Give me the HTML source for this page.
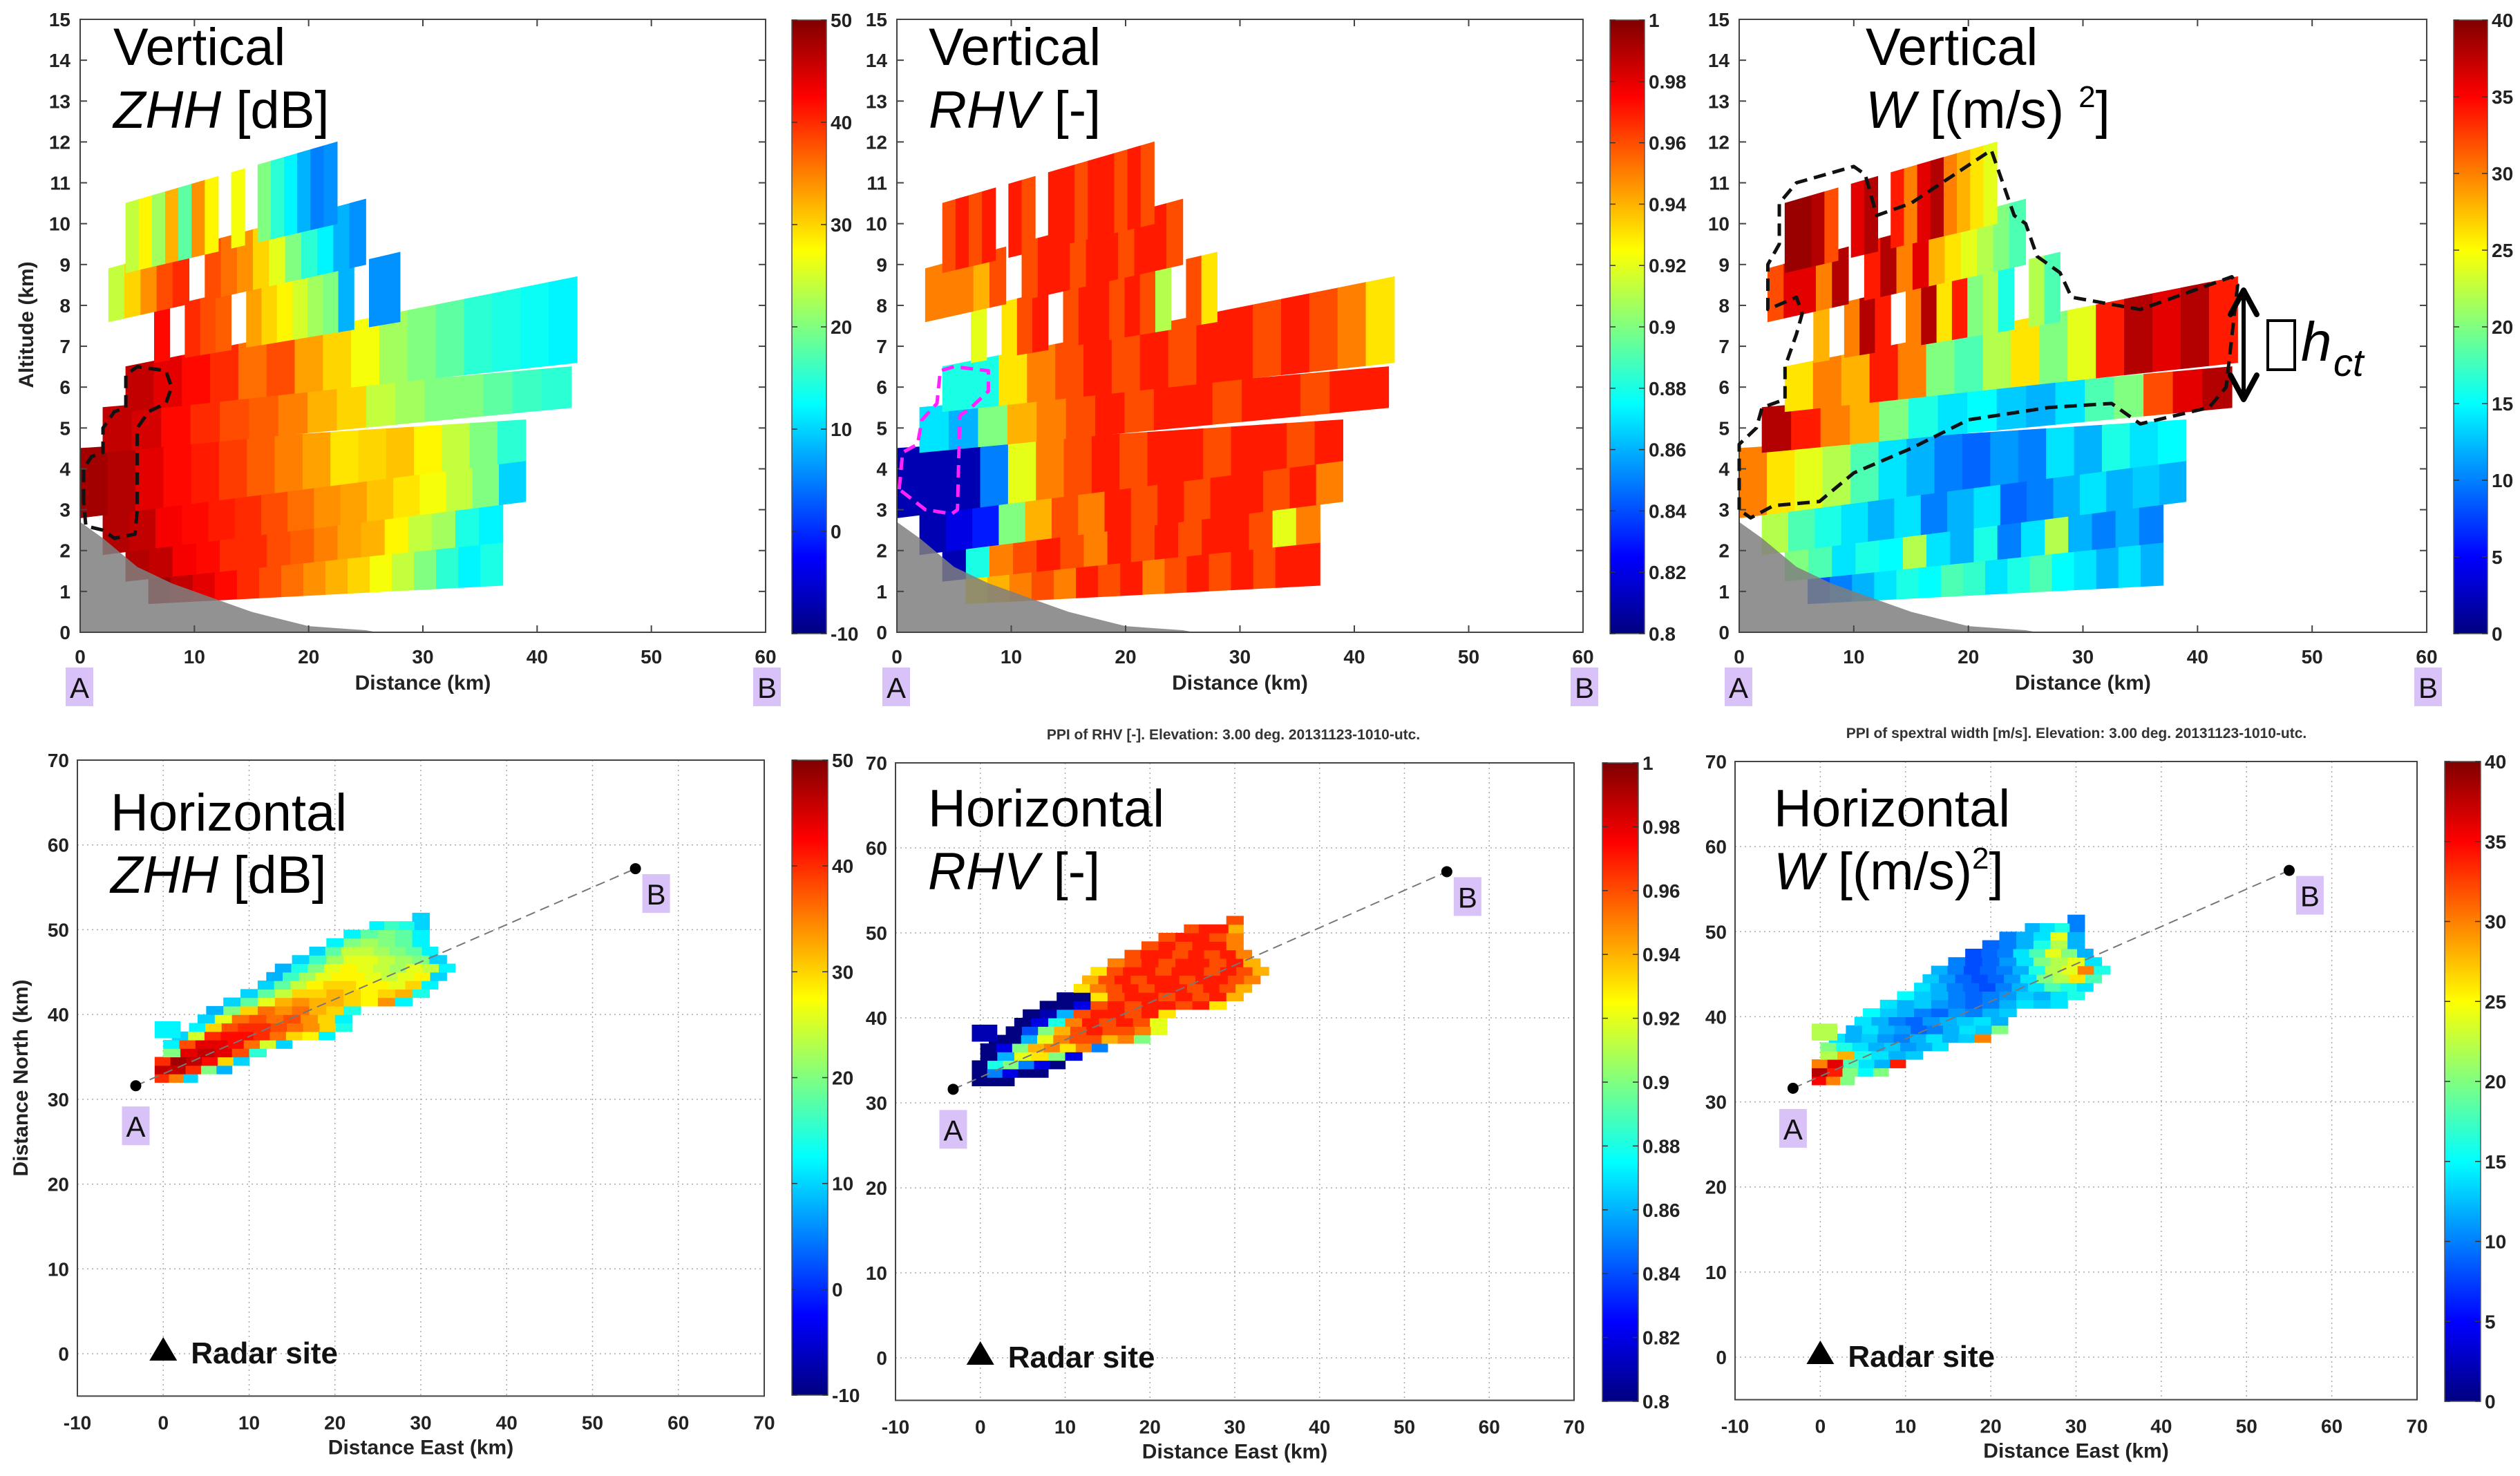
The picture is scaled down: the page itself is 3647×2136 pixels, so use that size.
<!DOCTYPE html>
<html><head><meta charset="utf-8"><title>Radar vertical and horizontal sections</title>
<style>
html,body{margin:0;padding:0;background:#fff;}
svg{display:block;font-family:"Liberation Sans",Arial,sans-serif;}
</style></head>
<body>
<svg id="fig" xmlns="http://www.w3.org/2000/svg" width="3647" height="2136" viewBox="0 0 3647 2136"></svg>
<script>
// ---------- data: vertical cross-section beam bands (km / altitude km) ----------
const bandStart   = [6, 4, 2, 0, 2, 4, 6.5, 2.5, 4];
const bandEnd     = [37, 37, 39, 39, 43, 43.5, 28, 25, 22.5];
const bandBotStart= [0.7, 1.25, 1.9, 2.8, 4.4, 5.4, 6.6, 7.6, 8.8];
const bandBotEnd  = [1.15, 2.2, 3.2, 4.2, 5.5, 6.6, 7.6, 9.0, 10.0];
const bandTopStart= [1.8, 2.4, 2.9, 4.5, 5.5, 6.5, 7.9, 8.9, 10.5];
const bandTopEnd  = [2.4, 3.2, 4.2, 5.2, 6.5, 8.7, 9.3, 10.6, 12.0];

const zhhBands = [
 [48,46,44,42,40,38,36,34,32,30,27,24,20,15,12,14],
 [47,46,43,42,40,40,38,37,35,33,32,28,24,22,14,12],
 [47,46,43,42,41,40,38,36,34,33,31,29,27,24,20,10],
 [48,47,44,42,41,39,37,35,33,29,30,31,28,24,20,15],
 [46,45,42,40,38,37,35,32,30,24,22,20,20,18,16,15],
 [46,44,42,40,36,38,33,30,27,22,20,18,15,14,13,12],
 [42,null,40,38,37,null,33,30,28,25,22,20,8,null,6,6],
 [24,30,34,38,40,null,38,36,34,30,26,20,15,12,8,6],
 [24,28,22,32,18,34,28,null,27,null,20,15,12,8,5,6]
];
const rhvBands = [
 [0.93,0.94,0.95,0.96,0.95,0.97,0.96,0.97,0.95,0.96,0.97,0.96,0.97,0.96,0.97,0.97],
 [0.81,0.88,0.95,0.96,0.97,0.96,0.95,0.97,0.96,0.97,0.96,0.97,0.97,0.96,0.92,0.95],
 [0.81,0.82,0.83,0.90,0.94,0.96,0.95,0.97,0.96,0.97,0.96,0.97,0.97,0.96,0.97,0.95],
 [0.81,0.81,0.81,0.85,0.92,0.95,0.96,0.97,0.96,0.97,0.97,0.96,0.97,0.97,0.96,0.97],
 [0.87,0.86,0.90,0.94,0.95,0.96,0.97,0.96,0.97,0.97,0.96,0.97,0.97,0.96,0.97,0.97],
 [0.88,0.88,0.93,0.95,0.96,0.97,0.96,0.97,0.96,0.97,0.97,0.96,0.97,0.96,0.95,0.93],
 [0.92,null,0.93,0.96,0.97,null,0.96,0.97,0.97,0.96,0.97,0.96,0.91,null,0.96,0.93],
 [0.95,0.95,0.95,0.94,0.96,null,0.96,0.97,0.97,0.96,0.97,0.97,0.96,0.97,0.97,0.96],
 [0.96,0.97,0.96,0.97,null,0.97,0.96,null,0.97,0.97,0.96,0.97,0.97,0.96,0.97,0.96]
];
const wBands = [
 [8,10,12,14,16,15,18,17,14,16,18,15,14,12,14,12],
 [20,18,14,16,15,22,14,12,16,10,14,22,12,10,12,10],
 [22,18,16,14,12,14,10,12,14,9,10,12,14,12,13,12],
 [30,26,24,22,18,14,12,10,9,11,10,14,12,16,14,15],
 [38,34,30,28,20,16,14,15,13,12,14,18,20,32,36,38],
 [26,30,28,34,30,20,18,22,26,20,24,34,38,36,38,34],
 [28,null,30,38,34,null,30,38,26,34,20,22,16,null,22,18],
 [32,36,36,30,38,null,34,38,30,36,28,26,24,22,20,18],
 [39,39,38,32,null,36,38,null,34,30,36,38,30,28,26,24]
];
const terrainDist = [0, 2, 5, 8, 12, 15, 20, 25, 26];
const terrainAlt  = [2.7, 2.3, 1.6, 1.2, 0.8, 0.5, 0.15, 0.05, 0];

// ---------- data: PPI rows (north km, east extent km, 2-km cells) ----------
const ppiRowNorth = [32,33,34,35,36,37,38,39,40,41,42,43,44,45,46,47,48,49,50,51];
const ppiRowXmin  = [-1,-1,-1,0,0,1,3,4,5,7,9,11,12,13,15,17,19,21,24,29];
const ppiRowXmax  = [4,8,10,12,15,20,22,22,23,29,31,32,33,34,33,32,31,31,31,31];
const zhhRows = [
 [40,35,10],[46,46,40,20,8],[40,48,46,42,30,10],[20,44,46,44,38,15],
 [12,38,44,44,42,36,25,10],[10,25,40,42,42,40,36,30,28,12],[12,30,38,40,40,38,36,34,30,14],
 [10,26,36,38,36,38,34,30,12],[8,20,30,36,34,36,32,30,14],[10,18,26,32,34,32,32,30,28,34,12],
 [10,18,24,30,30,32,30,28,30,32,14],[10,18,24,28,30,30,28,28,26,30,12],[8,16,22,26,28,28,26,24,26,28,10],
 [8,14,20,26,28,26,24,22,26,24,12],[10,16,22,26,26,24,22,20,10],[10,18,24,24,22,20,18,12],
 [12,20,22,20,18,12],[12,18,20,18,12],[12,16,14,10],[10]
];
const rhvRows = [
 [0.8,0.8,0.8],[0.8,0.85,0.82,0.8,0.8],[0.8,0.88,0.9,0.85,0.82,0.8],[0.8,0.86,0.92,0.93,0.9,0.82],
 [0.8,0.82,0.9,0.94,0.95,0.93,0.95,0.85],[0.8,0.8,0.86,0.92,0.95,0.96,0.96,0.94,0.95,0.9],
 [0.8,0.84,0.9,0.94,0.96,0.97,0.96,0.96,0.95,0.92],[0.8,0.82,0.88,0.95,0.97,0.96,0.97,0.96,0.92],
 [0.8,0.81,0.86,0.96,0.97,0.97,0.96,0.97,0.93],[0.8,0.8,0.82,0.96,0.97,0.96,0.97,0.97,0.96,0.97,0.93],
 [0.8,0.8,0.93,0.96,0.97,0.97,0.96,0.97,0.96,0.97,0.94],[0.93,0.95,0.96,0.97,0.96,0.97,0.97,0.96,0.97,0.96,0.94],
 [0.94,0.96,0.97,0.96,0.97,0.97,0.96,0.97,0.97,0.96,0.95],[0.93,0.96,0.97,0.97,0.96,0.97,0.97,0.96,0.97,0.96,0.94],
 [0.95,0.96,0.97,0.96,0.97,0.97,0.96,0.97,0.94],[0.96,0.97,0.97,0.96,0.97,0.96,0.97,0.95],
 [0.96,0.97,0.96,0.97,0.97,0.95],[0.96,0.97,0.97,0.96,0.95],[0.96,0.97,0.97,0.94],[0.96]
];
const wRows = [
 [35,30,20],[38,34,20,15,20],[30,36,18,14,12,34],[22,28,16,14,12,13],
 [20,16,14,12,13,11,12,14],[14,12,13,11,10,12,14,12,13,30],[12,14,12,11,9,10,12,14,13,20],
 [14,12,10,9,11,12,13,14,12],[15,13,12,10,9,11,10,12,13],[14,12,13,11,10,9,10,12,14,13,14],
 [15,13,12,10,9,10,11,13,12,14,16],[14,12,10,9,8,10,12,14,18,16,14],[13,11,9,8,9,11,14,20,22,26,18],
 [12,10,8,9,10,12,16,22,24,30,16],[10,8,9,11,14,20,22,24,14],[8,9,10,14,18,24,20,12],
 [9,10,12,16,22,12],[10,12,14,24,12],[12,14,16,10],[10]
];
const patchValues = [12, 0.81, 22];
const pointA = [-3.2, 31.6];
const pointB = [55, 57.2];

const zhhTicks = [50,40,30,20,10,0,-10];
const rhvTicks = [1,0.98,0.96,0.94,0.92,0.9,0.88,0.86,0.84,0.82,0.8];
const wTicks = [40,35,30,25,20,15,10,5,0];
const altTicks = [0,1,2,3,4,5,6,7,8,9,10,11,12,13,14,15];
const distTicks = [0,10,20,30,40,50,60];
const eastTicks = [-10,0,10,20,30,40,50,60,70];
const northTicks = [0,10,20,30,40,50,60,70];

// ---------- helpers ----------
const NS = "http://www.w3.org/2000/svg";
const svg = document.getElementById('fig');
function mk(tag, attrs, parent){
  const e = document.createElementNS(NS, tag);
  for (const k in attrs) e.setAttribute(k, attrs[k]);
  (parent||svg).appendChild(e);
  return e;
}
function clamp(v){return Math.max(0,Math.min(1,v));}
function jet(t){
  t = clamp(t);
  const r = clamp(1.5-Math.abs(4*t-3)), g = clamp(1.5-Math.abs(4*t-2)), b = clamp(1.5-Math.abs(4*t-1));
  return `rgb(${Math.round(r*255)},${Math.round(g*255)},${Math.round(b*255)})`;
}
function txt(x,y,s,opt,parent){
  const e = mk('text', Object.assign({x:x,y:y,'font-size':28,fill:'#222'},opt||{}), parent);
  e.textContent = s;
  return e;
}
let gradId = 0;
function colorbar(x0,x1,yt,yb,vmin,vmax,ticks,name){
  const id = 'jetg'+(gradId++);
  const defs = mk('defs',{});
  const lg = mk('linearGradient',{id:id,x1:0,y1:1,x2:0,y2:0},defs);
  for(let i=0;i<=32;i++){ mk('stop',{offset:(i/32),'stop-color':jet(i/32)},lg); }
  const g = mk('g',{});
  
  
  mk('rect',{x:x0,y:yt,width:x1-x0,height:yb-yt,fill:`url(#${id})`,stroke:'#555','stroke-width':1.5},g);
  ticks.forEach(v=>{
    const y = yb - (v-vmin)/(vmax-vmin)*(yb-yt);
    mk('line',{x1:x0,x2:x0+8,y1:y,y2:y,stroke:'#333','stroke-width':1.5},g);
    mk('line',{x1:x1-8,x2:x1,y1:y,y2:y,stroke:'#333','stroke-width':1.5},g);
    const t = txt(x1+6,y+10,String(v),{'font-weight':'bold','font-size':28},g);
    
    
  });
}
function labelBox(x,y,s,name){
  const g = mk('g',{});
  
  
  mk('rect',{x:x,y:y,width:40,height:56,fill:'#d9c2f7'},g);
  txt(x+20,y+44,s,{'font-size':42,'text-anchor':'middle',fill:'#111'},g);
}
function bigLabels(x,y1,y2,line1,parts){
  const g = mk('g',{});
  
  
  txt(x,y1,line1,{'font-size':76,fill:'#000'},g);
  const t = mk('text',{x:x,y:y2,'font-size':76,fill:'#000'},g);
  parts.forEach(p=>{
    const ts = mk('tspan',p.attrs||{},t);
    ts.textContent = p.s;
  });
}

// ---------- vertical panels ----------
const topPanels = [
 {x0:116,x1:1108,cb:[1146,1196],vmin:-10,vmax:50,ticks:zhhTicks,bands:zhhBands,name:'zhh'},
 {x0:1298,x1:2291,cb:[2330,2380],vmin:0.8,vmax:1,ticks:rhvTicks,bands:rhvBands,name:'rhv'},
 {x0:2517,x1:3512,cb:[3551,3600],vmin:0,vmax:40,ticks:wTicks,bands:wBands,name:'w'}
];
const TY0 = 915, TY15 = 28;
topPanels.forEach(P=>{
  const sx = d => P.x0 + d/60*(P.x1-P.x0);
  const sy = a => TY0 - a/15*(TY0-TY15);
  const g = mk('g',{});
  
  
  P.bands.forEach((vals,i)=>{
    const n = vals.length, xs = bandStart[i], xe = bandEnd[i];
    const bot = x => bandBotStart[i] + (bandBotEnd[i]-bandBotStart[i])*(x-xs)/(xe-xs);
    const top = x => bandTopStart[i] + (bandTopEnd[i]-bandTopStart[i])*(x-xs)/(xe-xs);
    vals.forEach((v,k)=>{
      if(v===null) return;
      const xa = xs+(xe-xs)*k/n, xb = xs+(xe-xs)*(k+1)/n;
      const c = jet((v-P.vmin)/(P.vmax-P.vmin));
      const pts = [[sx(xa),sy(bot(xa))],[sx(xb),sy(bot(xb))],[sx(xb),sy(top(xb))],[sx(xa),sy(top(xa))]];
      const p = mk('polygon',{points:pts.map(q=>q.join(',')).join(' '),fill:c,stroke:c,'stroke-width':1},g);
      
      
    });
  });
  // terrain
  let tp = terrainDist.map((d,i)=>sx(d)+','+sy(terrainAlt[i])).join(' ');
  tp += ' '+sx(terrainDist[terrainDist.length-1])+','+sy(0)+' '+sx(0)+','+sy(0);
  const terr = mk('polygon',{points:tp,fill:'#7f7f7f','fill-opacity':0.85},g);
  
  
  // frame
  const fr = mk('rect',{x:P.x0,y:TY15,width:P.x1-P.x0,height:TY0-TY15,fill:'none',stroke:'#444','stroke-width':2},g);
  
  
  altTicks.forEach(a=>{
    mk('line',{x1:P.x0,x2:P.x0+10,y1:sy(a),y2:sy(a),stroke:'#444','stroke-width':2},g);
    mk('line',{x1:P.x1-10,x2:P.x1,y1:sy(a),y2:sy(a),stroke:'#444','stroke-width':2},g);
    const t = txt(P.x0-14,sy(a)+10,String(a),{'text-anchor':'end','font-weight':'bold'},g);
    
    
  });
  distTicks.forEach(d=>{
    mk('line',{x1:sx(d),x2:sx(d),y1:TY0,y2:TY0-10,stroke:'#444','stroke-width':2},g);
    mk('line',{x1:sx(d),x2:sx(d),y1:TY15,y2:TY15+10,stroke:'#444','stroke-width':2},g);
    const t = txt(sx(d),TY0+45,String(d),{'text-anchor':'middle','font-weight':'bold'},g);
    
    
  });
  const xl = txt((P.x0+P.x1)/2,TY0+83,'Distance (km)',{'text-anchor':'middle','font-weight':'bold','font-size':30},g);
  
  
  labelBox(P.x0-21,966,'A','label-a');
  labelBox(P.x1-18,966,'B','label-b');
  colorbar(P.cb[0],P.cb[1],29,917,P.vmin,P.vmax,P.ticks,'colorbar-'+P.name);
  P.sx = sx; P.sy = sy;
});
const yt1 = txt(0,0,'Altitude (km)',{'font-weight':'bold','font-size':30,'text-anchor':'middle',transform:'translate(48,470) rotate(-90)'});



// annotations on vertical panels
function dashedOutline(P,pts,color,name){
  const d = 'M'+pts.map(p=>P.sx(p[0])+','+P.sy(p[1])).join(' L')+' Z';
  const e = mk('path',{d:d,fill:'none',stroke:color,'stroke-width':5,'stroke-dasharray':'18,10','stroke-linejoin':'round'});
  
  
}
dashedOutline(topPanels[0],[[0.3,3.2],[0.3,4],[1,4.3],[2,4.4],[2,5],[3,5.4],[4,5.5],[4,6.3],[5,6.5],[7.5,6.4],[8,6],[7.5,5.6],[6,5.4],[5,5],[5,3],[4.8,2.4],[3,2.3],[2,2.5],[0.5,2.6]],'#111','dashed-region-zhh');
dashedOutline(topPanels[1],[[0.2,3.5],[0.5,4.4],[1.8,4.6],[2.2,5.2],[3.5,5.6],[3.8,6.4],[5,6.5],[8,6.4],[8,5.9],[6.5,5.5],[5.5,5.3],[5.3,3],[4.8,2.9],[2.5,3]],'#ff22ff','dashed-region-rhv');
dashedOutline(topPanels[2],[[0,3],[0,4.6],[1.5,5.0],[2,5.5],[4,5.7],[4,6.5],[5,7.3],[5.5,7.8],[5,8.2],[2.5,7.9],[2.5,9],[3.5,9.5],[3.5,10.5],[5,11],[10,11.4],[11,11.2],[12,10.2],[15,10.5],[22,11.8],[23,11],[24,10.2],[25,10],[26,9.2],[28,8.8],[29,8.2],[33,8],[35,7.9],[43,8.7],[43.5,8.5],[42.5,6],[41,5.5],[35,5.1],[34,5.3],[32.5,5.6],[27,5.5],[20,5.2],[15,4.5],[10,3.9],[7,3.2],[3,3.1],[1,2.8]],'#111','dashed-region-w');
// delta h arrow
(function(){
  const g = mk('g',{});
  
  
  mk('line',{x1:3247,x2:3247,y1:425,y2:573,stroke:'#000','stroke-width':6},g);
  mk('polyline',{points:'3228,455 3247,420 3266,455',fill:'none',stroke:'#000','stroke-width':8,'stroke-linecap':'round','stroke-linejoin':'round'},g);
  mk('polyline',{points:'3228,543 3247,578 3266,543',fill:'none',stroke:'#000','stroke-width':8,'stroke-linecap':'round','stroke-linejoin':'round'},g);
  mk('rect',{x:3282,y:464,width:39,height:71,fill:'none',stroke:'#000','stroke-width':4},g);
  txt(3330,522,'h',{'font-size':80,'font-style':'italic',fill:'#000'},g);
  txt(3377,544,'ct',{'font-size':56,'font-style':'italic',fill:'#000'},g);
})();

bigLabels(164,94,185,'Vertical',[{s:'ZHH',attrs:{'font-style':'italic'}},{s:' [dB]'}]);
bigLabels(1344,94,185,'Vertical',[{s:'RHV',attrs:{'font-style':'italic'}},{s:' [-]'}]);
bigLabels(2700,94,185,'Vertical',[{s:'W',attrs:{'font-style':'italic'}},{s:' [(m/s) '},{s:'2',attrs:{'font-size':44,dy:-30}},{s:']',attrs:{dy:30}}]);

// ---------- horizontal panels ----------
const botPanels = [
 {x0:112,x1:1106,yT:1100,y0:1959,cb:[1146,1198,1100,2019],vmin:-10,vmax:50,ticks:zhhTicks,rows:zhhRows,patch:patchValues[0],name:'zhh'},
 {x0:1296,x1:2278,yT:1104,y0:1965,cb:[2319,2371,1104,2028],vmin:0.8,vmax:1,ticks:rhvTicks,rows:rhvRows,patch:patchValues[1],name:'rhv'},
 {x0:2511,x1:3498,yT:1102,y0:1964,cb:[3538,3590,1102,2028],vmin:0,vmax:40,ticks:wTicks,rows:wRows,patch:patchValues[2],name:'w'}
];
botPanels.forEach(P=>{
  const sx = e => P.x0 + (e+10)/80*(P.x1-P.x0);
  const sy = n => P.y0 - n/70*(P.y0-P.yT);
  const g = mk('g',{});
  
  
  // grid
  eastTicks.forEach(e=>{
    mk('line',{x1:sx(e),x2:sx(e),y1:P.yT,y2:sy(-5),stroke:'#aaa','stroke-width':1.5,'stroke-dasharray':'2,5'},g);
  });
  northTicks.forEach(n=>{
    mk('line',{x1:P.x0,x2:P.x1,y1:sy(n),y2:sy(n),stroke:'#aaa','stroke-width':1.5,'stroke-dasharray':'2,5'},g);
  });
  // echo cells
  P.rows.forEach((vals,i)=>{
    const n0 = ppiRowNorth[i], xmin = ppiRowXmin[i], xmax = ppiRowXmax[i];
    const cw = (xmax-xmin)/vals.length;
    vals.forEach((v,k)=>{
      const c = jet((v-P.vmin)/(P.vmax-P.vmin));
      const xa = sx(xmin+k*cw), xb = sx(xmin+(k+1)*cw);
      const r = mk('rect',{x:xa,y:sy(n0+1),width:xb-xa+0.6,height:sy(n0)-sy(n0+1)+0.6,fill:c},g);
      
      
    });
  });
  const pc = jet((P.patch-P.vmin)/(P.vmax-P.vmin));
  const pr = mk('rect',{x:sx(-1),y:sy(39.2),width:sx(2)-sx(-1),height:sy(37.2)-sy(39.2),fill:pc},g);
  
  
  // A-B line
  const ab = mk('line',{x1:sx(pointA[0]),y1:sy(pointA[1]),x2:sx(pointB[0]),y2:sy(pointB[1]),stroke:'#777','stroke-width':2,'stroke-dasharray':'14,8'},g);
  
  
  const da = mk('circle',{cx:sx(pointA[0]),cy:sy(pointA[1]),r:8,fill:'#000'},g);
  
  
  const db = mk('circle',{cx:sx(pointB[0]),cy:sy(pointB[1]),r:8,fill:'#000'},g);
  
  
  labelBox(sx(pointA[0])-20,sy(pointA[1])+30,'A','label-a');
  labelBox(sx(pointB[0])+10,sy(pointB[1])+8,'B','label-b');
  // radar site
  const rs = mk('g',{},g);
  
  
  const rx = sx(0), ry = sy(0);
  mk('polygon',{points:`${rx-20},${ry+10} ${rx+20},${ry+10} ${rx},${ry-24}`,fill:'#000'},rs);
  txt(rx+40,ry+14,'Radar site',{'font-size':44,'font-weight':'bold',fill:'#111'},rs);
  // frame & ticks
  const fr = mk('rect',{x:P.x0,y:P.yT,width:P.x1-P.x0,height:sy(-5)-P.yT,fill:'none',stroke:'#444','stroke-width':2},g);
  
  
  northTicks.forEach(n=>{
    const t = txt(P.x0-12,sy(n)+10,String(n),{'text-anchor':'end','font-weight':'bold'},g);
    
    
  });
  eastTicks.forEach(e=>{
    const t = txt(sx(e),sy(-5)+48,String(e),{'text-anchor':'middle','font-weight':'bold'},g);
    
    
  });
  const xl = txt((P.x0+P.x1)/2,sy(-5)+84,'Distance East (km)',{'text-anchor':'middle','font-weight':'bold','font-size':30},g);
  
  
  colorbar(P.cb[0],P.cb[1],P.cb[2],P.cb[3],P.vmin,P.vmax,P.ticks,'colorbar-'+P.name);
});
const yt2 = txt(0,0,'Distance North (km)',{'font-weight':'bold','font-size':30,'text-anchor':'middle',transform:'translate(40,1560) rotate(-90)'});


const pt1 = txt(1785,1070,'PPI of RHV [-]. Elevation: 3.00 deg. 20131123-1010-utc.',{'text-anchor':'middle','font-size':21,'font-weight':'bold',fill:'#333'});


const pt2 = txt(3005,1068,'PPI of spextral width [m/s]. Elevation: 3.00 deg. 20131123-1010-utc.',{'text-anchor':'middle','font-size':21,'font-weight':'bold',fill:'#333'});



bigLabels(160,1202,1292,'Horizontal',[{s:'ZHH',attrs:{'font-style':'italic'}},{s:' [dB]'}]);
bigLabels(1343,1196,1287,'Horizontal',[{s:'RHV',attrs:{'font-style':'italic'}},{s:' [-]'}]);
bigLabels(2567,1196,1287,'Horizontal',[{s:'W',attrs:{'font-style':'italic'}},{s:' [(m/s)'},{s:'2',attrs:{'font-size':44,dy:-30}},{s:']',attrs:{dy:30}}]);
</script>
</body></html>
